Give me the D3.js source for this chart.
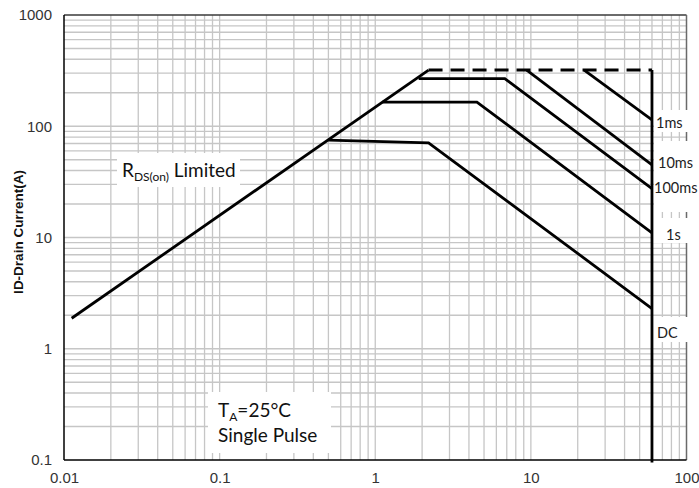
<!DOCTYPE html>
<html>
<head>
<meta charset="utf-8">
<script src="https://cdn.jsdelivr.net/npm/d3@7"></script>
<style>
  html, body { margin: 0; padding: 0; background: #fff; }
  svg { display: block; }
</style>
</head>
<body>
<svg id="chart" width="699" height="488"></svg>
<script>
// ---- data ----
const xTickValues = [0.01, 0.1, 1, 10, 100];
const xTickLabels = ["0.01", "0.1", "1", "10", "100"];
const yTickValues = [0.1, 1, 10, 100, 1000];
const yTickLabels = ["0.1", "1", "10", "100", "1000"];

const rdsX = [0.0112, 2.2];
const rdsY = [1.88, 320];
const limitX = [2.2, 60];          // dashed current limit
const limitY = [320, 320];
const wallX = [60, 60];            // vertical (voltage) limit
const wallY = [320, 0.095];
const dcX = [0.5, 2.2, 60];
const dcY = [75, 71, 2.3];
const s1X = [1.11, 4.5, 60];
const s1Y = [165, 165, 11];
const ms100X = [1.9, 6.8, 60];
const ms100Y = [268, 268, 27.5];
const ms10X = [9.4, 60];
const ms10Y = [320, 45];
const ms1X = [22, 60];
const ms1Y = [320, 114];

const curveLabels = ["1ms", "10ms", "100ms", "1s", "DC"];
const curveLabelY = [123, 163, 188, 235, 333];
const curveLabelX = [656, 658, 654, 666, 657];

// ---- layout ----
const svg = d3.select("#chart");
const L = 64, R = 686.5, T = 15, B = 460;
const x = d3.scaleLog().domain([0.01, 100]).range([L, R]);
const y = d3.scaleLog().domain([0.1, 1000]).range([B, T]);

// grid values
const gridX = [], gridY = [];
for (let e = -2; e < 2; e++) for (let k = 1; k < 10; k++) gridX.push(k * Math.pow(10, e));
for (let e = -1; e < 3; e++) for (let k = 1; k < 10; k++) gridY.push(k * Math.pow(10, e));

const grid = svg.append("g").attr("stroke", "#c6c6c6").attr("stroke-width", 1.3);
grid.selectAll("line.gx").data(gridX.filter(v => v > 0.0100001)).enter().append("line")
  .attr("x1", d => x(d)).attr("x2", d => x(d)).attr("y1", T).attr("y2", B);
grid.selectAll("line.gy").data(gridY.filter(v => v > 0.1000001)).enter().append("line")
  .attr("y1", d => y(d)).attr("y2", d => y(d)).attr("x1", L).attr("x2", R);

// frame
svg.append("line").attr("x1", L).attr("x2", R).attr("y1", T).attr("y2", T).attr("stroke", "#3a3a3a").attr("stroke-width", 1.3);
svg.append("line").attr("x1", R).attr("x2", R).attr("y1", T).attr("y2", B).attr("stroke", "#6a6a6a").attr("stroke-width", 1.5);

// white label boxes (cover grid)
const boxes = [
  [117, 153, 123, 34],
  [208, 392, 123, 61],
  [654, 110, 45, 22],
  [654, 141, 45, 71],
  [653, 218, 46, 25],
  [653, 317, 46, 25]
];
svg.append("g").selectAll("rect").data(boxes).enter().append("rect")
  .attr("x", d => d[0]).attr("y", d => d[1]).attr("width", d => d[2]).attr("height", d => d[3])
  .attr("fill", "#fff");

// axes
const xAxis = d3.axisBottom(x).tickValues(xTickValues).tickFormat((d, i) => xTickLabels[i]).tickSize(0).tickPadding(12);
const yAxis = d3.axisLeft(y).tickValues(yTickValues).tickFormat((d, i) => yTickLabels[i]).tickSize(0).tickPadding(12);
const gx = svg.append("g").attr("transform", `translate(0,${B})`).call(xAxis);
const gy = svg.append("g").attr("transform", `translate(${L},0)`).call(yAxis);
[gx, gy].forEach(g => {
  g.select(".domain").remove();
  g.selectAll("text").attr("font-family", "'Liberation Sans', Arial, sans-serif").attr("font-size", 15).attr("fill", "#333");
});
svg.append("line").attr("x1", L).attr("x2", L).attr("y1", T).attr("y2", B).attr("stroke", "#000").attr("stroke-width", 1.5);
svg.append("line").attr("x1", L).attr("x2", R).attr("y1", B).attr("y2", B).attr("stroke", "#000").attr("stroke-width", 1.5);

svg.append("text")
  .attr("transform", "translate(23,232) rotate(-90)")
  .attr("text-anchor", "middle")
  .attr("font-family", "'Liberation Sans', Arial, sans-serif")
  .attr("font-weight", "bold").attr("font-size", 13.5).attr("fill", "#111")
  .text("ID-Drain Current(A)");

// curves
const line = d3.line().x(d => x(d[0])).y(d => y(d[1]));
const zip = (a, b) => a.map((v, i) => [v, b[i]]);
const curves = [
  [rdsX, rdsY], [wallX, wallY], [dcX, dcY], [s1X, s1Y], [ms100X, ms100Y], [ms10X, ms10Y], [ms1X, ms1Y]
];
svg.append("g").selectAll("path").data(curves).enter().append("path")
  .attr("d", d => line(zip(d[0], d[1])))
  .attr("fill", "none").attr("stroke", "#000").attr("stroke-width", 2.8);
svg.append("path").attr("d", line(zip(limitX, limitY)))
  .attr("fill", "none").attr("stroke", "#000").attr("stroke-width", 3)
  .attr("stroke-dasharray", "14,8");

// labels
const lf = "Lato, 'Open Sans', sans-serif";
svg.append("g").selectAll("text").data(curveLabels).enter().append("text")
  .attr("x", (d, i) => curveLabelX[i]).attr("y", (d, i) => curveLabelY[i])
  .attr("dy", "0.36em")
  .attr("font-family", lf).attr("font-size", 14.5).attr("fill", "#222")
  .text(d => d);

const rds = svg.append("text").attr("x", 122).attr("y", 177)
  .attr("font-family", lf).attr("font-size", 19).attr("fill", "#111");
rds.append("tspan").text("R");
rds.append("tspan").attr("font-size", 12).attr("dy", 4).text("DS(on)");
rds.append("tspan").attr("dy", -4).text(" Limited");

const ta = svg.append("text").attr("x", 218).attr("y", 417)
  .attr("font-family", lf).attr("font-size", 19).attr("fill", "#111");
ta.append("tspan").text("T");
ta.append("tspan").attr("font-size", 12).attr("dy", 4).text("A");
ta.append("tspan").attr("dy", -4).text("=25\u2103".replace("\u2103", "\u00B0C"));
svg.append("text").attr("x", 218).attr("y", 442)
  .attr("font-family", lf).attr("font-size", 19).attr("fill", "#111")
  .text("Single Pulse");
</script>
</body>
</html>
